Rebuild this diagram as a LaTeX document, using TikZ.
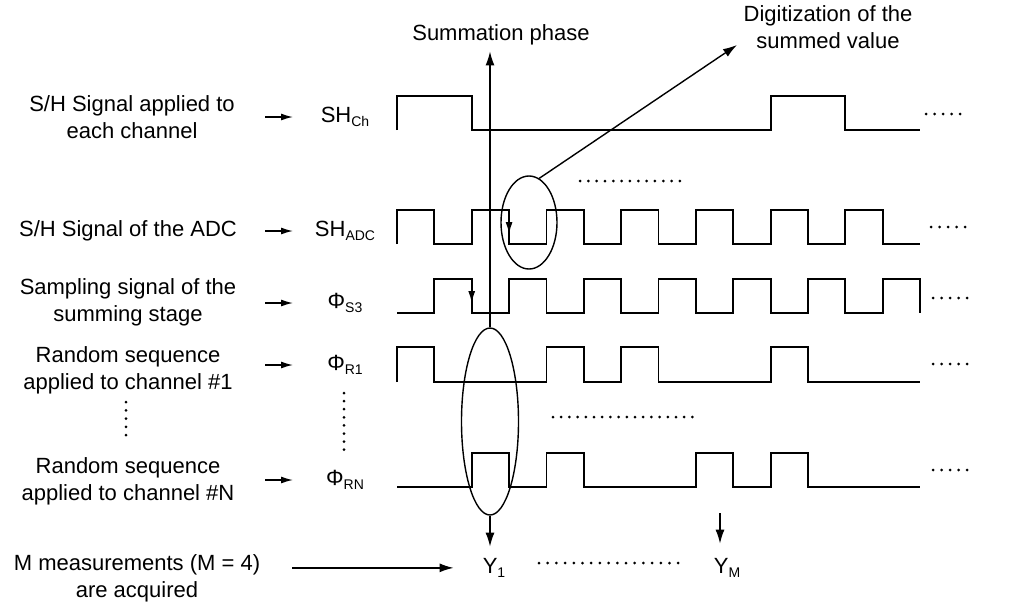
\documentclass[tikz,border=0pt]{standalone}
\usepackage{fontspec}
\setmainfont{Liberation Sans}
\usetikzlibrary{arrows.meta,shapes.geometric,positioning}
\newcommand\subtx[1]{\raisebox{-0.22em}{\fontsize{14}{14}\selectfont #1}}
\tikzset{
  txt/.style={font=\fontsize{22}{27}\selectfont,align=center,inner sep=2pt},
  wave/.style={line width=1.8pt,line join=miter},
  arr/.style={line width=1.4pt,-{Latex[length=14pt,width=9pt]}},
  sarr/.style={line width=1.4pt,-{Latex[length=12pt,width=7pt]}},
  ring/.style={draw,ellipse,line width=1.4pt,inner sep=0pt},
}

\begin{document}
\begin{tikzpicture}[x=1pt,y=-1pt]
\useasboundingbox (0,0) rectangle (1010,611);

% captions on the left
\node[txt] (lblch)  at (132,117) {S/H Signal applied to\\each channel};
\node[txt] (lbladc) at (128,231) {S/H Signal of the ADC};
\node[txt] (lbls3)  at (128,302) {Sampling signal of the\\summing stage};
\node[txt] (lblr1)  at (128,370) {Random sequence\\applied to channel \#1};
\node[txt] (lblrn)  at (128,481) {Random sequence\\applied to channel \#N};
\node[txt] (lblm)   at (137,578) {M measurements (M = 4)\\are acquired};

% signal names with their small arrows
\foreach \n/\y/\s in {sch/117/SH\subtx{Ch}, sadc/231/SH\subtx{ADC}, ss3/303/Φ\subtx{S3},
                      sr1/365/Φ\subtx{R1}, srn/480/Φ\subtx{RN}} {
  \node[txt,anchor=base] (\n) at (345,\y+5) {\s};
  \draw[sarr] ([xshift=-80pt,yshift=5pt]\n.base) -- ([xshift=-52pt,yshift=5pt]\n.base);
}

% top texts
\node[txt] (sumph) at (501,35) {Summation phase};
\node[txt] (digit) at (828,27) {Digitization of the\\summed value};

% waveforms, one unit = half a clock period
\begin{scope}[shift={(397,0)},x=37.36pt]
  \draw[wave] (0,130) -- (0,96) -- (2,96) -- (2,130) -- (10,130) -- (10,96) -- (12,96) -- (12,130) -- (14,130); % SH_Ch
  \draw[wave] (0,244) \foreach \k in {0,2,...,12} { -- (\k,244) -- (\k,210) -- (\k+1,210) -- (\k+1,244) } -- (14,244); % SH_ADC
  \draw[wave] (0,313) \foreach \k in {1,3,...,13} { -- (\k,313) -- (\k,279) -- (\k+1,279) -- (\k+1,313) }; % S3
  \draw[wave] (0,382) -- (0,347) -- (1,347) -- (1,382) -- (4,382) -- (4,347) -- (5,347) -- (5,382) -- (6,382) -- (6,347) -- (7,347) -- (7,382)
    -- (10,382) -- (10,347) -- (11,347) -- (11,382) -- (14,382); % R1
  \draw[wave] (0,487) -- (2,487) -- (2,453) -- (3,453) -- (3,487) -- (4,487) -- (4,453) -- (5,453) -- (5,487) -- (8,487) -- (8,453) -- (9,453)
    -- (9,487) -- (10,487) -- (10,453) -- (11,453) -- (11,487) -- (14,487); % RN
  \draw[sarr] (3,210) -- (3,234);
  \draw[sarr] (2,279) -- (2,303);
\end{scope}

% ellipses and arrows
\node[ring,minimum width=57pt,minimum height=187pt] (ell1) at (490,421.5) {};
\node[ring,minimum width=56pt,minimum height=93pt] (ell2) at (529,222.5) {};
\coordinate (digtip) at (737,45);
\draw[arr] (ell2.77) -- (digtip);
\draw[arr,shorten >=4pt] (ell1.north) -- (ell1.north |- sumph.south);

\node[txt,anchor=base] (y1) at (494,573) {Y\subtx{1}};
\node[txt,anchor=base] (ym) at (727,573) {Y\subtx{M}};
\draw[arr,shorten >=9pt] (ell1.south) -- (ell1.south |- y1.north);
\coordinate (ymtop) at (720,513);
\draw[arr,shorten >=12pt] (ymtop) -- (ymtop |- ym.north);
\draw[arr,shorten <=30pt,shorten >=27pt] (lblm.east |- y1.west) -- (y1.west);

% dotted continuations
\foreach \i in {0,...,12} \fill (580+8.33*\i,181) circle (1.5);
\foreach \i in {0,...,17} \fill (553+8.2*\i,417) circle (1.5);
\foreach \i in {0,...,16} \fill (539+8.7*\i,563) circle (1.5);
\foreach \y/\x in {114/926,227/931,298/933,364/933,470/933}
  \foreach \i in {0,...,4} \fill (\x+8.5*\i,\y) circle (1.5);
\foreach \i in {0,...,4} \fill (126,402+8.3*\i) circle (1.5);
\foreach \i in {0,...,7} \fill (344,393+8.1*\i) circle (1.5);
\end{tikzpicture}
\end{document}
